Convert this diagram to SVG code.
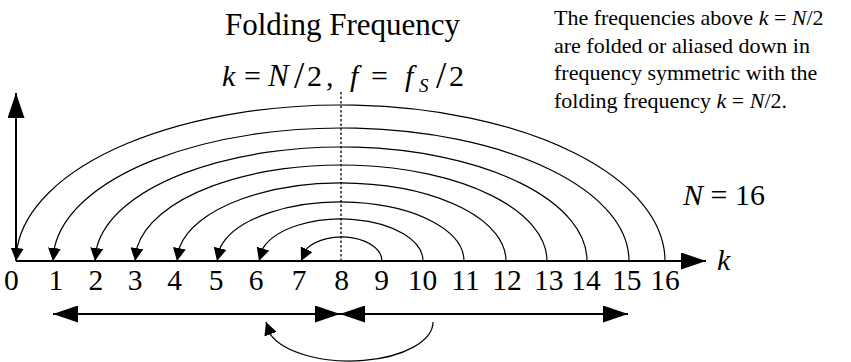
<svg xmlns="http://www.w3.org/2000/svg" width="851" height="362" viewBox="0 0 851 362">
<style>
text{font-family:"Liberation Serif","Times New Roman",Times,serif;fill:#000}
.it{font-style:italic}
.tick{font-size:29.5px;text-anchor:middle}
.big{font-size:31px}
.math{font-size:30px}
.sl{font-size:37px}
.note{font-size:22px}
.thick{stroke:#000;stroke-width:2;fill:none}
.arc{stroke:#000;stroke-width:1.2;fill:none;marker-end:url(#sm)}
</style>
<defs>
<marker id="bg" viewBox="0 0 25 17" refX="25" refY="8.5" markerWidth="25" markerHeight="17" markerUnits="userSpaceOnUse" orient="auto-start-reverse"><path d="M0,0L25,8.5L0,17z" fill="#000"/></marker>
<marker id="sm" viewBox="0 0 13 13" refX="13" refY="6.5" markerWidth="13" markerHeight="13" markerUnits="userSpaceOnUse" orient="auto"><path d="M0,0L13,6.5L0,13z" fill="#000"/></marker>
</defs>
<g id="title">
<text class="big" x="225" y="35">Folding Frequency</text>
</g>
<g id="formula" class="math">
<text class="it" x="222" y="86">k</text>
<text x="244" y="86">=</text>
<text class="it" x="268" y="86" style="font-size:31px">N</text>
<text class="sl" x="294" y="88">/</text>
<text x="307" y="86">2</text>
<text x="326" y="86">,</text>
<text class="it" x="350" y="86">f</text>
<text x="371" y="86">=</text>
<text class="it" x="405" y="86">f</text>
<text class="it" x="419" y="92" style="font-size:19px">S</text>
<text class="sl" x="436" y="88">/</text>
<text x="449" y="86">2</text>
</g>
<g id="note" class="note">
<text x="554" y="25">The frequencies above <tspan class="it">k</tspan> = <tspan class="it">N</tspan>/2</text>
<text x="554" y="52.5">are folded or aliased down in</text>
<text x="554" y="80">frequency symmetric with the</text>
<text x="554" y="107.5">folding frequency <tspan class="it">k</tspan> = <tspan class="it">N</tspan>/2.</text>
</g>
<g id="n16">
<text class="math" x="683" y="205"><tspan class="it">N</tspan> = 16</text>
</g>
<g id="axis-label">
<text class="math it" x="717" y="270">k</text>
</g>
<g id="ticks" class="tick">
<text x="11.3" y="290">0</text>
<text x="55.8" y="290">1</text>
<text x="95.8" y="290">2</text>
<text x="135" y="290">3</text>
<text x="174.7" y="290">4</text>
<text x="216" y="290">5</text>
<text x="256" y="290">6</text>
<text x="299" y="290">7</text>
<text x="341.7" y="290">8</text>
<text x="381.7" y="290">9</text>
<text x="422.5" y="290">10</text>
<text x="465.5" y="290">11</text>
<text x="507" y="290">12</text>
<text x="548.8" y="290">13</text>
<text x="586" y="290">14</text>
<text x="626.7" y="290">15</text>
<text x="665" y="290">16</text>
</g>
<g id="connectors">
<line class="thick" x1="16" y1="261" x2="706" y2="261" marker-end="url(#bg)"/>
<line class="thick" x1="16" y1="261" x2="16" y2="93" marker-end="url(#bg)"/>
<line x1="341" y1="92" x2="341" y2="261" stroke="#000" stroke-width="1.3" stroke-dasharray="2.5 2"/>
<path class="arc" d="M382,261A40.5,24 0 0 0 307.08,248.36L301,261"/>
<path class="arc" d="M423,261A82,42 0 0 0 263.27,247.63L259,261"/>
<path class="arc" d="M464,261A123.5,59 0 0 0 220.34,247.38L217,261"/>
<path class="arc" d="M506,261A164.5,78 0 0 0 179.58,247.23L177,261"/>
<path class="arc" d="M547,261A206,96 0 0 0 137.16,247.13L135,261"/>
<path class="arc" d="M587,261A246,114 0 0 0 96.83,247.13L95,261"/>
<path class="arc" d="M629,261A288,133 0 0 0 54.59,247.06L53,261"/>
<path class="arc" d="M665,261A324.5,156 0 0 0 17.3,247.05L16,261"/>
<line class="thick" x1="53" y1="314" x2="340" y2="314" marker-start="url(#bg)" marker-end="url(#bg)"/>
<line class="thick" x1="340" y1="314" x2="628" y2="314" marker-start="url(#bg)" marker-end="url(#bg)"/>
<path class="arc" d="M433,322A83.5,39 0 0 1 270.89,335.16L266,322"/>
</g>
</svg>
